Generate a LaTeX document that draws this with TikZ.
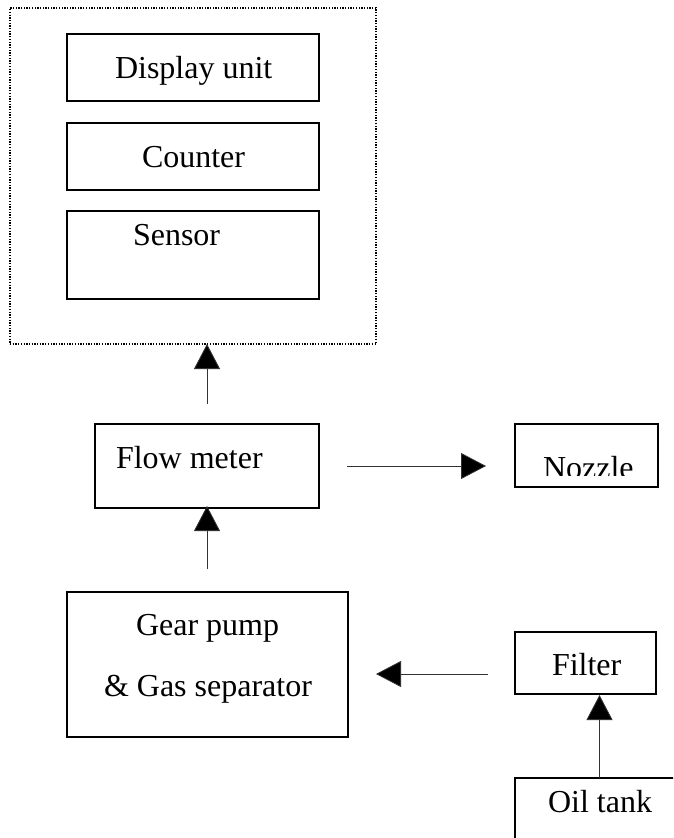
\documentclass[tikz,border=0pt]{standalone}
\usepackage{fontspec}
\setmainfont{Liberation Serif}
\usetikzlibrary{arrows.meta}
\begin{document}
\begin{tikzpicture}[x=1pt,y=-1pt,
  blk/.style={draw,line width=1.4pt,rectangle,inner sep=0pt,outer sep=0pt},
  lbl/.style={anchor=base west,inner sep=0pt,outer sep=0pt,font=\fontsize{32}{38}\selectfont},
  arr/.style={line width=0.8pt,draw=black!80,-{Triangle[length=25pt,width=26pt,fill=black]}}]
\clip (0,0) rectangle (673,838);
% outer dotted group
\node[draw,line width=1.3pt,dash pattern=on 1.3pt off 1.4pt,inner sep=0pt,outer sep=0pt,
  minimum width=366pt,minimum height=336pt] (outer) at (193,176) {};
% boxes
\node[blk,minimum width=252pt,minimum height=67pt] (disp) at (193,67.5) {};
\node[blk,minimum width=252pt,minimum height=67pt] (cnt) at (193,156.5) {};
\node[blk,minimum width=252pt,minimum height=88pt] (sens) at (193,255) {};
\node[blk,minimum width=224pt,minimum height=84pt] (flow) at (207,466) {};
\node[blk,minimum width=143pt,minimum height=63pt] (noz) at (586.5,455.5) {};
\node[blk,minimum width=281pt,minimum height=145pt] (gear) at (207.5,664.5) {};
\node[blk,minimum width=141pt,minimum height=62pt] (filt) at (585.5,663) {};
\node[blk,minimum width=200pt,minimum height=90pt] (oil) at (615,823) {};
% labels
\node[lbl] (tdisp) at (115,78) {Display unit};
\node[lbl] (tcnt) at (142,167) {Counter};
\node[lbl] (tsens) at (133,245) {Sensor};
\node[lbl] (tflow) at (116,468) {Flow meter};
\begin{scope}
\clip (515,424) rectangle (658,475.5);
\node[lbl] (tnoz) at (543,478.5) {Nozzle};
\end{scope}
\node[lbl] (tgear1) at (136,635) {Gear pump};
\node[lbl] (tgear2) at (104,696) {\& Gas separator};
\node[lbl] (tfilt) at (552,675) {Filter};
\node[lbl] (toil) at (548,812) {Oil tank};
% connectors
\draw[arr,shorten <=20pt] (flow.north) -- (flow.north |- outer.south);
\draw[arr,shorten <=23pt,shorten >=-2pt] (gear.north -| flow.south) -- (flow.south);
\draw[arr,shorten <=28pt,shorten >=29pt] (flow.east) -- (flow.east -| noz.west);
\coordinate (fa) at ([yshift=-11pt]filt.west);
\draw[arr,shorten <=27pt,shorten >=28pt] (fa) -- (fa -| gear.east);
\coordinate (fb) at ([xshift=14pt]filt.south);
\draw[arr,shorten >=1pt] (fb |- oil.north) -- (fb);
\end{tikzpicture}
\end{document}
